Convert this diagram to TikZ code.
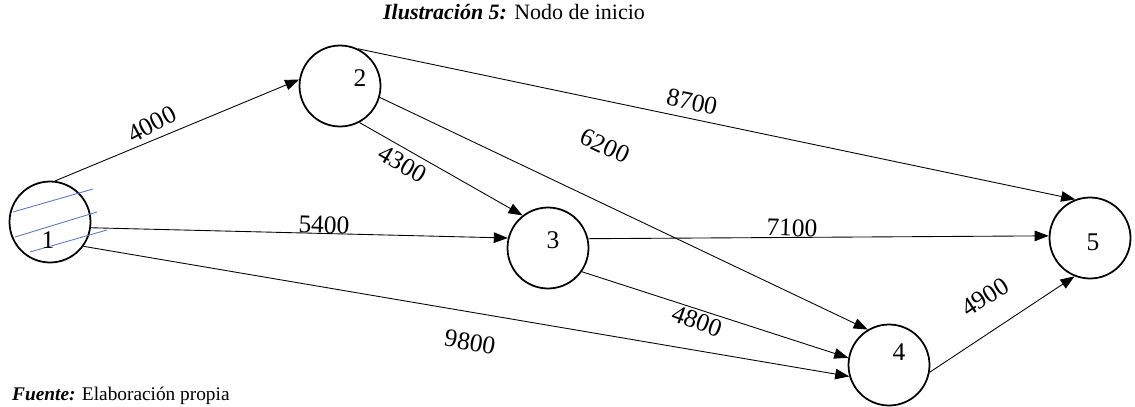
\documentclass[tikz,border=0pt]{standalone}
\usepackage{fontspec}
\setmainfont{Liberation Serif}
\usetikzlibrary{arrows.meta}
\definecolor{hatchblue}{RGB}{90,120,200}
\tikzset{
  event/.style={circle, draw=black, line width=1pt, minimum size=1.62cm, inner sep=0pt},
  num/.style={font=\fontsize{14.5}{16}\selectfont, inner sep=0pt},
  cost/.style={font=\fontsize{14.5}{16}\selectfont, inner sep=0pt},
  arc/.style={-{Triangle[length=8pt,width=6pt]}, line width=0.5pt},
  hatch/.style={draw=hatchblue, line width=0.5pt}
}
\begin{document}
\begin{tikzpicture}[x=0.02cm, y=-0.02cm]
  \useasboundingbox (0,0) rectangle (1135,406);
  % caption and source
  \node[font=\fontsize{12.5}{14}\selectfont] (cap) at (514,12) {\textbf{\textit{Ilustración 5:}} Nodo de inicio};
  \node[font=\fontsize{11}{13}\selectfont, anchor=west] (src) at (6,396) {\textbf{\textit{Fuente:}} Elaboración propia};
  % events
  \node[event] (n1) at (50,222) {};
  \node[event] (n2) at (340,86) {};
  \node[event] (n3) at (548,248) {};
  \node[event] (n4) at (889,365) {};
  \node[event] (n5) at (1090,238) {};
  % hatching on the start node
  \draw[hatch] (13,212) -- (93,189);
  \draw[hatch] (15,237) -- (97,212);
  \draw[hatch] (30,252) -- (107,230);
  % event numbers
  \node[num] (t1) at ([shift={(-2,18)}]n1) {1};
  \node[num] (t2) at ([shift={(20,-8)}]n2) {2};
  \node[num] (t3) at ([shift={(5,-8)}]n3) {3};
  \node[num] (t4) at ([shift={(10,-13)}]n4) {4};
  \node[num] (t5) at ([shift={(3,4)}]n5) {5};
  % activities
  \draw[arc] (n1.83) -- (n2.171);
  \draw[arc] (n1.-8) -- (n3.166);
  \draw[arc] (n1.-36) -- (n4.196);
  \draw[arc] (n2.-62) -- (n3.128);
  \draw[arc] (n2.-16) -- (n4.121);
  \draw[arc] (n2.64) -- (n5.111);
  \draw[arc] (n3.13) -- (n5.177);
  \draw[arc] (n3.-35) -- (n4.170);
  \draw[arc] (n4.-10) -- (n5.248);
  % costs
  \node[cost, rotate=28] (c12) at (152,124) {4000};
  \node[cost, rotate=-2] (c13) at (324,225) {5400};
  \node[cost, rotate=-10] (c14) at (470,342) {9800};
  \node[cost, rotate=-30] (c23) at (403,164) {4300};
  \node[cost, rotate=-25] (c24) at (605,146) {6200};
  \node[cost, rotate=-12] (c25) at (692,102) {8700};
  \node[cost, rotate=-2] (c35) at (792,228) {7100};
  \node[cost, rotate=-20] (c34) at (697,321) {4800};
  \node[cost, rotate=33] (c45) at (985,297) {4900};
\end{tikzpicture}
\end{document}
